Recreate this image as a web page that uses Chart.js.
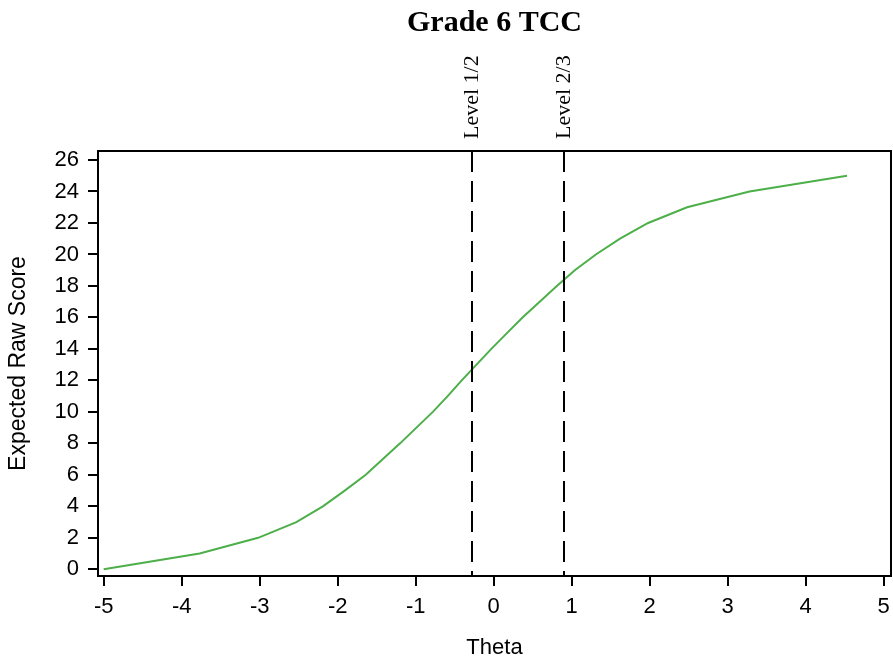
<!DOCTYPE html>
<html>
<head>
<meta charset="utf-8">
<script src="https://cdn.jsdelivr.net/npm/chart.js@4.4.0/dist/chart.umd.min.js"></script>
<style>
  html, body { margin: 0; padding: 0; background: #ffffff; }
  #wrap { width: 893px; height: 664px; }
</style>
</head>
<body>
<div id="wrap"><canvas id="tcc" width="893" height="664"></canvas></div>
<script>
// Test characteristic curve: expected raw score at each theta
const rawScores = [0, 1, 2, 3, 4, 5, 6, 7, 8, 9, 10, 11, 12, 13, 14, 15, 16, 17, 18, 19, 20, 21, 22, 23, 24, 25];
const thetas = [-5.00, -3.77, -3.02, -2.53, -2.19, -1.91, -1.64, -1.42, -1.20, -0.99, -0.78, -0.59, -0.41, -0.22,
                -0.03, 0.17, 0.37, 0.59, 0.81, 1.04, 1.31, 1.62, 1.98, 2.48, 3.28, 4.53];

// Performance level cut scores on the theta scale
const cutNames = ['Level 1/2', 'Level 2/3'];
const cutThetas = [-0.28, 0.90];

// Axis tick values
const xTickValues = [-5, -4, -3, -2, -1, 0, 1, 2, 3, 4, 5];
const yTickValues = [0, 2, 4, 6, 8, 10, 12, 14, 16, 18, 20, 22, 24, 26];

const sansFont = '"Liberation Sans", Arial, sans-serif';
const serifFont = '"Liberation Serif", "Times New Roman", serif';

const curvePoints = thetas.map((t, i) => ({ x: t, y: rawScores[i] }));

// Frame around the plotting region
const frameBox = {
  id: 'frameBox',
  afterDraw(chart) {
    const { ctx, chartArea: a } = chart;
    ctx.save();
    ctx.strokeStyle = '#000';
    ctx.lineWidth = 2;
    ctx.strokeRect(a.left, a.top, a.right - a.left, a.bottom - a.top);
    ctx.restore();
  }
};

// Dashed vertical lines at each cut score, labelled above the frame
const cutLines = {
  id: 'cutLines',
  afterDatasetsDraw(chart) {
    const { ctx, chartArea: a, scales: { x } } = chart;
    ctx.save();
    cutThetas.forEach((c, i) => {
      const px = Math.round(x.getPixelForValue(c));
      ctx.strokeStyle = '#000';
      ctx.lineWidth = 2;
      ctx.setLineDash([21, 9]);
      ctx.beginPath();
      ctx.moveTo(px, a.top);
      ctx.lineTo(px, a.bottom);
      ctx.stroke();
      ctx.setLineDash([]);
      ctx.save();
      ctx.translate(px + 5.5, a.top - 12);
      ctx.rotate(-Math.PI / 2);
      ctx.fillStyle = '#000';
      ctx.font = '22px ' + serifFont;
      ctx.textAlign = 'left';
      ctx.textBaseline = 'alphabetic';
      ctx.fillText(cutNames[i], 0, 0);
      ctx.restore();
    });
    ctx.restore();
  }
};

new Chart(document.getElementById('tcc'), {
  type: 'scatter',
  data: {
    datasets: [{
      label: 'TCC',
      data: curvePoints,
      showLine: true,
      borderColor: '#4DAF4A',
      borderWidth: 2,
      pointRadius: 0,
      pointHoverRadius: 0,
      tension: 0,
      fill: false
    }]
  },
  options: {
    responsive: false,
    animation: false,
    devicePixelRatio: 1,
    layout: { padding: { left: 0, right: 2, top: 0, bottom: 0 } },
    plugins: {
      legend: { display: false },
      tooltip: { enabled: false },
      title: {
        display: true,
        text: 'Grade 6 TCC',
        fullSize: false,
        color: '#000',
        font: { family: serifFont, size: 30, weight: 'bold', lineHeight: 1.2 },
        padding: { top: 5, bottom: 110 }
      }
    },
    scales: {
      x: {
        type: 'linear',
        min: -5.073,
        max: 5.094,
        afterBuildTicks(scale) { scale.ticks = xTickValues.map(v => ({ value: v })); },
        afterFit(scale) { scale.height = 88; scale.paddingLeft = 0; scale.paddingRight = 0; },
        border: { display: false },
        grid: { display: true, drawOnChartArea: false, drawTicks: true, tickLength: 10, color: '#000', lineWidth: 2 },
        ticks: { autoSkip: false, maxRotation: 0, color: '#000', padding: 8,
                 font: { family: sansFont, size: 22 } },
        title: { display: true, text: 'Theta', color: '#000',
                 font: { family: sansFont, size: 22, lineHeight: 1.2 },
                 padding: { top: 0, bottom: 3 } }
      },
      y: {
        type: 'linear',
        min: -0.426,
        max: 26.572,
        afterBuildTicks(scale) { scale.ticks = yTickValues.map(v => ({ value: v })); },
        afterFit(scale) { scale.width = 98; scale.paddingTop = 0; scale.paddingBottom = 0; },
        border: { display: false },
        grid: { display: true, drawOnChartArea: false, drawTicks: true, tickLength: 10, color: '#000', lineWidth: 2 },
        ticks: { autoSkip: false, color: '#000', padding: 9,
                 font: { family: sansFont, size: 22 } },
        title: { display: true, text: 'Expected Raw Score', color: '#000',
                 font: { family: sansFont, size: 23, lineHeight: 1.2 },
                 padding: { top: 5, bottom: 0 } }
      }
    }
  },
  plugins: [frameBox, cutLines]
});
</script>
</body>
</html>
